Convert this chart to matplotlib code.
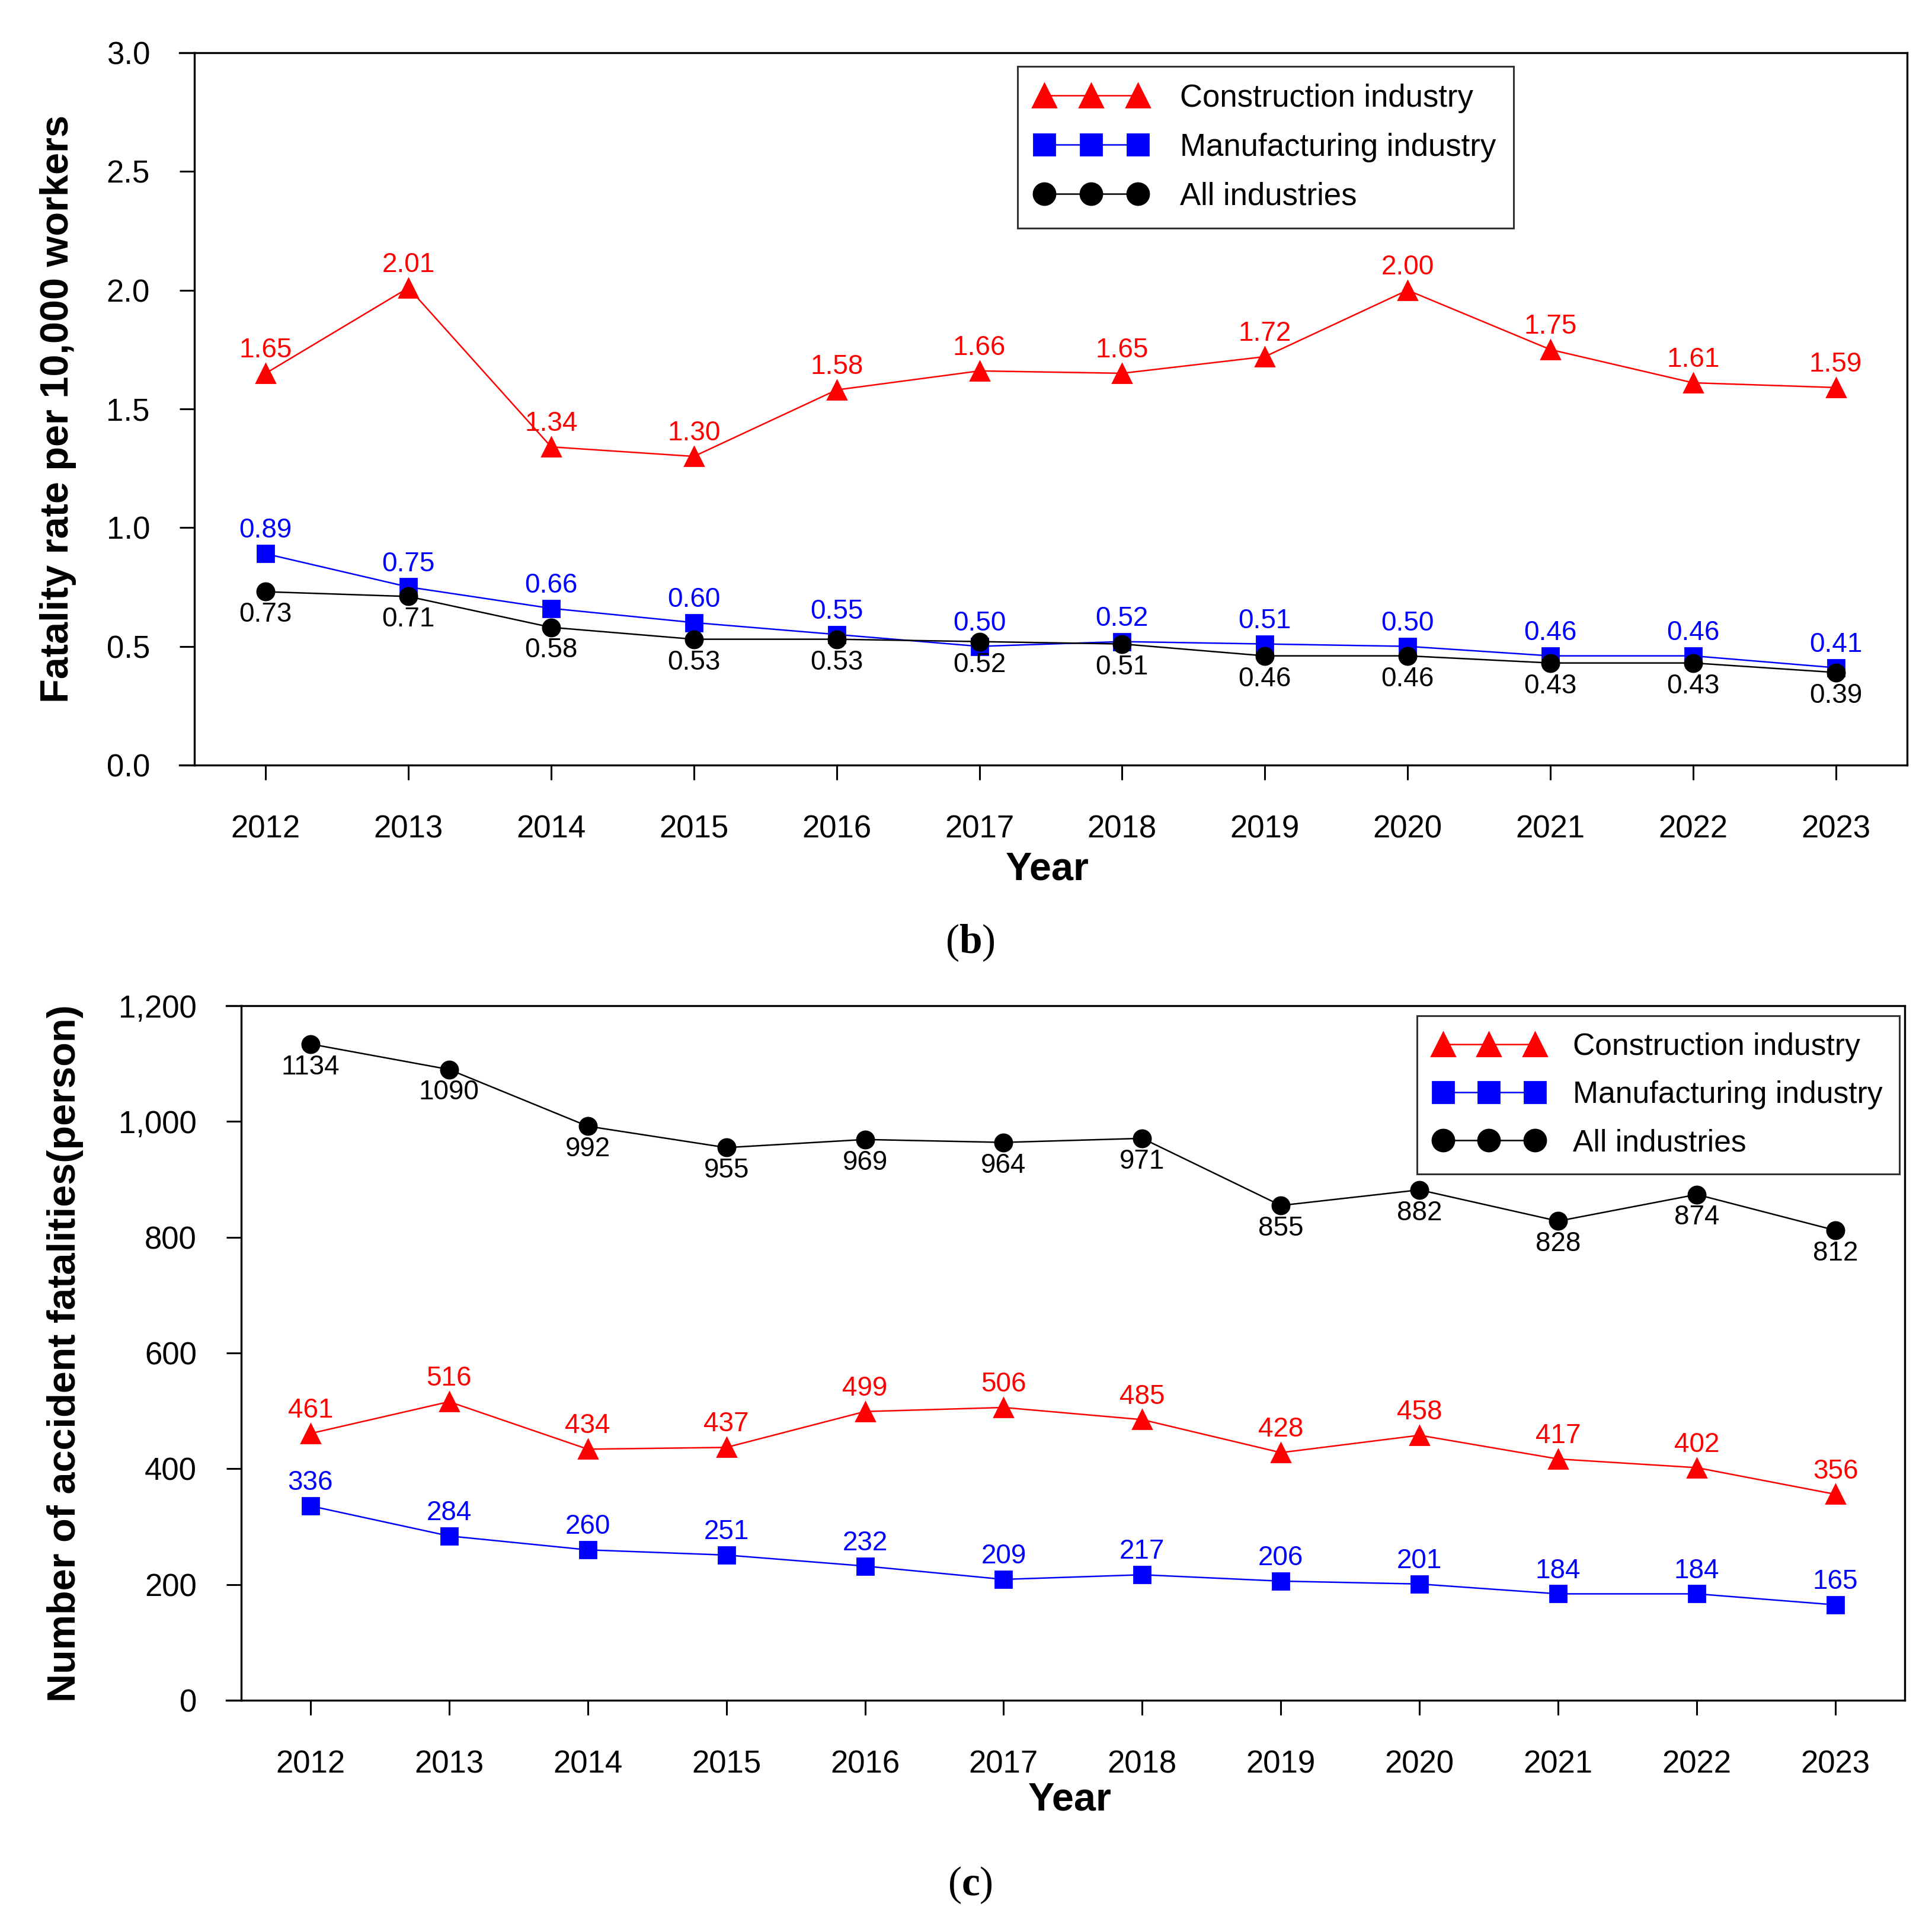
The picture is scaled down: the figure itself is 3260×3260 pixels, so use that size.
import matplotlib
matplotlib.use("Agg")
import matplotlib.pyplot as plt
from matplotlib.lines import Line2D
from matplotlib.ticker import FuncFormatter

years = [2012, 2013, 2014, 2015, 2016, 2017, 2018, 2019, 2020, 2021, 2022, 2023]

rate_construction = [1.65, 2.01, 1.34, 1.30, 1.58, 1.66, 1.65, 1.72, 2.00, 1.75, 1.61, 1.59]
rate_manufacturing = [0.89, 0.75, 0.66, 0.60, 0.55, 0.50, 0.52, 0.51, 0.50, 0.46, 0.46, 0.41]
rate_all = [0.73, 0.71, 0.58, 0.53, 0.53, 0.52, 0.51, 0.46, 0.46, 0.43, 0.43, 0.39]

deaths_construction = [461, 516, 434, 437, 499, 506, 485, 428, 458, 417, 402, 356]
deaths_manufacturing = [336, 284, 260, 251, 232, 209, 217, 206, 201, 184, 184, 165]
deaths_all = [1134, 1090, 992, 955, 969, 964, 971, 855, 882, 828, 874, 812]

series_names = ["Construction industry", "Manufacturing industry", "All industries"]

plt.rcParams['font.family'] = ['Liberation Sans', 'DejaVu Sans']
plt.rcParams['mathtext.fontset'] = 'custom'
plt.rcParams['mathtext.rm'] = 'Liberation Serif'
plt.rcParams['mathtext.bf'] = 'Liberation Serif:bold'

fig = plt.figure(figsize=(16.3, 16.3), dpi=200)

ax1 = fig.add_axes([0.1006, 0.6040, 0.9871 - 0.1006, 0.9727 - 0.6040])
ax2 = fig.add_axes([0.1248, 0.1199, 0.9859 - 0.1248, 0.4794 - 0.1199])

TICK_FS = 19
LBL_FS = 16.5
AXLBL_FS = 24
OFF = 14


def draw(ax, cons, manu, allv, fmt, ylim, yticks, ylabel, ylab_x, xlab_y,
         legend_xy, leg_fs, leg_pad):
    ax.plot(years, cons, color='#FF0000', marker='^', markersize=11.5, lw=0.9,
            label=series_names[0], zorder=3)
    ax.plot(years, manu, color='#0000FF', marker='s', markersize=10.3, lw=0.9,
            label=series_names[1], zorder=3)
    ax.plot(years, allv, color='black', marker='o', markersize=10.5, lw=0.9,
            label=series_names[2], zorder=3)
    for x, c, m, a in zip(years, cons, manu, allv):
        ax.annotate(fmt(c), (x, c), xytext=(0, OFF), textcoords='offset points',
                    ha='center', va='center', color='#FF0000', fontsize=LBL_FS)
        ax.annotate(fmt(m), (x, m), xytext=(0, OFF), textcoords='offset points',
                    ha='center', va='center', color='#0000FF', fontsize=LBL_FS)
        ax.annotate(fmt(a), (x, a), xytext=(0, -OFF), textcoords='offset points',
                    ha='center', va='center', color='black', fontsize=LBL_FS)
    ax.set_xlim(2011.5, 2023.5)
    ax.set_ylim(*ylim)
    ax.set_xticks(years)
    ax.set_yticks(yticks)
    ax.tick_params(axis='both', direction='out', length=9, width=1.1,
                   labelsize=TICK_FS, top=False, right=False)
    ax.tick_params(axis='x', pad=21)
    ax.tick_params(axis='y', pad=18)
    for s in ax.spines.values():
        s.set_linewidth(1.2)
    ax.set_xlabel("Year", fontsize=AXLBL_FS, fontweight='bold')
    ax.xaxis.set_label_coords(0.498, xlab_y)
    ax.set_ylabel(ylabel, fontsize=AXLBL_FS, fontweight='bold')
    ax.yaxis.set_label_coords(ylab_x, 0.5)
    leg = ax.legend(loc='upper left', bbox_to_anchor=legend_xy, borderaxespad=0,
                    fontsize=leg_fs, numpoints=3, handlelength=3.6,
                    handletextpad=leg_pad, labelspacing=0.62, markerscale=1.27,
                    frameon=True, fancybox=False, edgecolor='black', borderpad=0.55)
    leg.get_frame().set_linewidth(1.1)
    # extend top and bottom frame lines to the left by tick length
    pos = ax.get_position()
    ext = 25 / 3260
    for yy in (pos.y0, pos.y1):
        fig.add_artist(Line2D([pos.x0 - ext, pos.x0], [yy, yy], color='black',
                              lw=1.2, transform=fig.transFigure))


draw(ax1, rate_construction, rate_manufacturing, rate_all,
     lambda v: f"{v:.2f}", (0, 3.0), [0, 0.5, 1.0, 1.5, 2.0, 2.5, 3.0],
     "Fatality rate per 10,000 workers", -0.069, -0.121, (0.4806, 0.981),
     19, 1.05)
ax1.yaxis.set_major_formatter(FuncFormatter(lambda v, p: f"{v:.1f}"))

draw(ax2, deaths_construction, deaths_manufacturing, deaths_all,
     lambda v: f"{v:d}", (0, 1200), [0, 200, 400, 600, 800, 1000, 1200],
     "Number of accident fatalities(person)", -0.0947, -0.117, (0.7067, 0.986),
     18.6, 0.95)
ax2.yaxis.set_major_formatter(FuncFormatter(lambda v, p: f"{int(v):,}"))

fig.text(0.502, 0.512, r"$\mathrm{(}\mathbf{b}\mathrm{)}$", fontsize=25,
         ha='center', va='center')
fig.text(0.502, 0.0242, r"$\mathrm{(}\mathbf{c}\mathrm{)}$", fontsize=25,
         ha='center', va='center')

fig.savefig("out.png", dpi=200, facecolor='white')
